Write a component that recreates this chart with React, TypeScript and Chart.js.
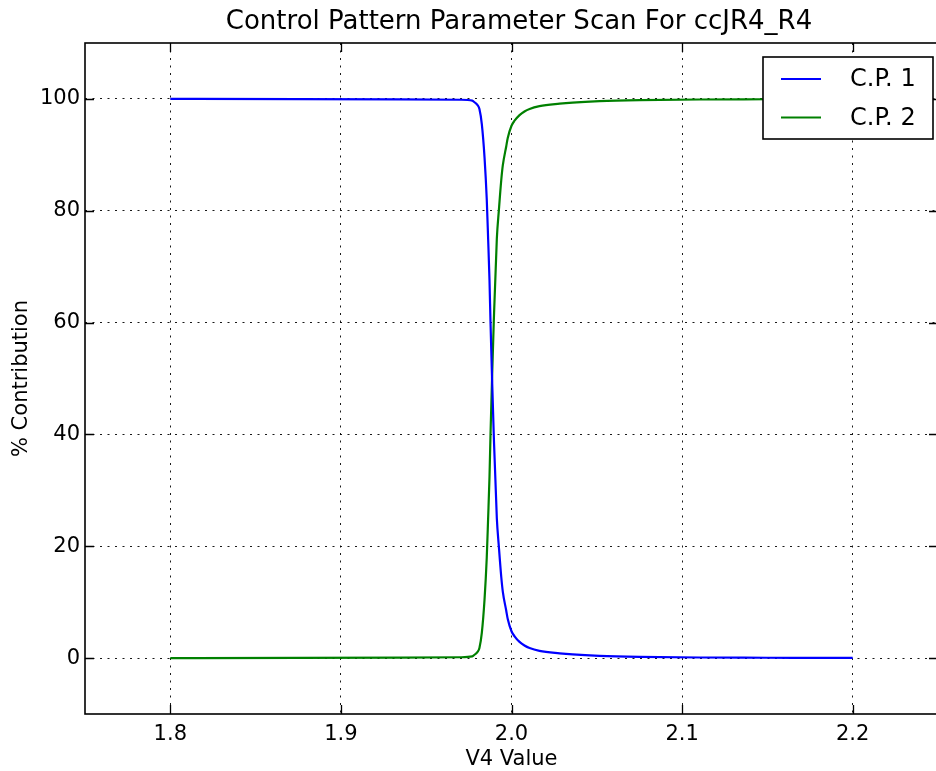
import React, { useEffect, useRef } from "react";
import { Chart, registerables } from "chart.js";

Chart.register(...registerables);

// ---- data ----
const v4Values = [
  1.8, 1.875, 1.935, 1.97, 1.977, 1.9783, 1.9801, 1.9812, 1.9826, 1.9842,
  1.9855, 1.9863, 1.9871, 1.9877, 1.9886, 1.9896, 1.9914, 1.9926, 1.994,
  1.9949, 1.9969, 1.9978, 2.0, 2.0018, 2.0047, 2.0076, 2.0106, 2.0164,
  2.0282, 2.0358, 2.0516, 2.0751, 2.1103, 2.15, 2.2,
];
const cp1Values = [
  100, 99.97, 99.93, 99.85, 99.7, 99.4, 98.9, 98.2, 95.5, 89.5,
  82, 75, 67.6, 60, 50, 40, 25, 19.9, 14.5,
  11.9, 8.5, 7.0, 4.8, 3.9, 2.9, 2.25, 1.8, 1.3,
  0.85, 0.65, 0.4, 0.22, 0.1, 0.06, 0.03,
];
const cp2Values = [
  0, 0.03, 0.07, 0.15, 0.3, 0.6, 1.1, 1.8, 4.5, 10.5,
  18, 25, 32.4, 40, 50, 60, 75, 80.1, 85.5,
  88.1, 91.5, 93.0, 95.2, 96.1, 97.1, 97.75, 98.2, 98.7,
  99.15, 99.35, 99.6, 99.78, 99.9, 99.94, 99.97,
];
const seriesNames = ["C.P. 1", "C.P. 2"];
const seriesColors = ["#0000ff", "#008000"];
const xTickValues = [1.8, 1.9, 2.0, 2.1, 2.2];
const xTickLabels = ["1.8", "1.9", "2.0", "2.1", "2.2"];
const yTickValues = [0, 20, 40, 60, 80, 100];
const yTickLabels = ["0", "20", "40", "60", "80", "100"];
const xRange = [1.75, 2.25];
const yRange = [-10, 110];
const chartTitle = "Control Pattern Parameter Scan For ccJR4_R4";
const xAxisTitle = "V4 Value";
const yAxisTitle = "% Contribution";

// ---- layout ----
const CANVAS_W = 960;
const CANVAS_H = 771;
const AREA_LEFT = 85;
const AREA_RIGHT = 938;
const AREA_TOP = 43;
const AREA_BOTTOM = 714;
const FONT = "'DejaVu Sans', sans-serif";
const TICK_LEN = 9;

const decorPlugin = {
  id: "decor",
  afterDraw(chart: any) {
    const ctx = chart.ctx;
    const { left, right, top, bottom } = chart.chartArea;
    const xs = chart.scales.x;
    const ys = chart.scales.y;
    ctx.save();
    // ticks (inward on all sides)
    ctx.strokeStyle = "#000";
    ctx.lineWidth = 1.3;
    ctx.beginPath();
    xTickValues.forEach((v) => {
      const px = Math.round(xs.getPixelForValue(v)) + 0.5;
      ctx.moveTo(px, bottom);
      ctx.lineTo(px, bottom - TICK_LEN);
      ctx.moveTo(px, top);
      ctx.lineTo(px, top + TICK_LEN);
    });
    yTickValues.forEach((v) => {
      const py = Math.round(ys.getPixelForValue(v)) + 0.5;
      ctx.moveTo(left, py);
      ctx.lineTo(left + TICK_LEN, py);
      ctx.moveTo(right, py);
      ctx.lineTo(right - TICK_LEN, py);
    });
    ctx.stroke();
    // frame
    ctx.lineWidth = 1.6;
    ctx.strokeRect(left, top, right - left, bottom - top);

    // title
    ctx.fillStyle = "#000";
    ctx.font = `26px ${FONT}`;
    ctx.textAlign = "center";
    ctx.textBaseline = "alphabetic";
    ctx.fillText(chartTitle, 519, 29);

    // axis titles
    ctx.font = `21px ${FONT}`;
    ctx.textBaseline = "middle";
    ctx.fillText(xAxisTitle, (left + right) / 2, 760);
    ctx.save();
    ctx.translate(22, (top + bottom) / 2);
    ctx.rotate(-Math.PI / 2);
    ctx.fillText(yAxisTitle, 0, 0);
    ctx.restore();

    // legend
    const lx = 763, ly = 57, lw = 170, lh = 82;
    ctx.fillStyle = "#fff";
    ctx.fillRect(lx, ly, lw, lh);
    ctx.strokeStyle = "#000";
    ctx.lineWidth = 1.6;
    ctx.strokeRect(lx, ly, lw, lh);
    const rows = [79, 117.5];
    ctx.font = `24px ${FONT}`;
    ctx.textAlign = "left";
    ctx.textBaseline = "middle";
    seriesNames.forEach((name, i) => {
      ctx.strokeStyle = seriesColors[i];
      ctx.lineWidth = 2;
      ctx.beginPath();
      ctx.moveTo(781, rows[i]);
      ctx.lineTo(821, rows[i]);
      ctx.stroke();
      ctx.fillStyle = "#000";
      ctx.fillText(name, 850, rows[i] + 1);
    });
    ctx.restore();
  },
};

export default function App() {
  const canvasRef = useRef<HTMLCanvasElement | null>(null);

  useEffect(() => {
    const canvas = canvasRef.current;
    if (!canvas) return;
    const chart = new Chart(canvas, {
      type: "line",
      data: {
        datasets: [
          {
            label: seriesNames[0],
            data: v4Values.map((x, i) => ({ x, y: cp1Values[i] })),
            borderColor: seriesColors[0],
            backgroundColor: seriesColors[0],
            borderWidth: 2.2,
            pointRadius: 0,
            cubicInterpolationMode: "monotone",
            fill: false,
          },
          {
            label: seriesNames[1],
            data: v4Values.map((x, i) => ({ x, y: cp2Values[i] })),
            borderColor: seriesColors[1],
            backgroundColor: seriesColors[1],
            borderWidth: 2.2,
            pointRadius: 0,
            cubicInterpolationMode: "monotone",
            fill: false,
          },
        ],
      },
      options: {
        responsive: false,
        animation: false,
        devicePixelRatio: 1,
        layout: {
          padding: {
            left: 0,
            top: AREA_TOP,
            right: CANVAS_W - AREA_RIGHT,
            bottom: 0,
          },
        },
        plugins: {
          legend: { display: false },
          title: { display: false },
          tooltip: { enabled: false },
        },
        scales: {
          x: {
            type: "linear",
            min: xRange[0],
            max: xRange[1],
            afterBuildTicks: (scale: any) => {
              scale.ticks = xTickValues.map((value) => ({ value }));
            },
            afterFit: (scale: any) => {
              scale.height = CANVAS_H - AREA_BOTTOM;
            },
            ticks: {
              callback: (_v: any, i: number) => xTickLabels[i],
              font: { family: FONT, size: 21 },
              color: "#000",
              padding: 8,
              maxRotation: 0,
              autoSkip: false,
            },
            grid: {
              drawTicks: false,
              color: "rgba(0,0,0,0.9)",
              lineWidth: 1,
            },
            border: { display: false, dash: [2, 5.5] },
          },
          y: {
            type: "linear",
            min: yRange[0],
            max: yRange[1],
            afterBuildTicks: (scale: any) => {
              scale.ticks = yTickValues.map((value) => ({ value }));
            },
            afterFit: (scale: any) => {
              scale.width = AREA_LEFT;
            },
            ticks: {
              callback: (_v: any, i: number) => yTickLabels[i],
              font: { family: FONT, size: 21 },
              color: "#000",
              padding: 5,
              autoSkip: false,
            },
            grid: {
              drawTicks: false,
              color: "rgba(0,0,0,0.9)",
              lineWidth: 1,
            },
            border: { display: false, dash: [2, 5.5] },
          },
        },
      },
      plugins: [decorPlugin],
    } as any);
    return () => chart.destroy();
  }, []);

  return (
    <div
      style={{
        position: "fixed",
        left: 0,
        top: 0,
        width: 936,
        height: CANVAS_H,
        overflow: "hidden",
        background: "#fff",
      }}
    >
      <canvas
        ref={canvasRef}
        width={CANVAS_W}
        height={CANVAS_H}
        style={{ display: "block", width: CANVAS_W, height: CANVAS_H }}
      />
    </div>
  );
}
